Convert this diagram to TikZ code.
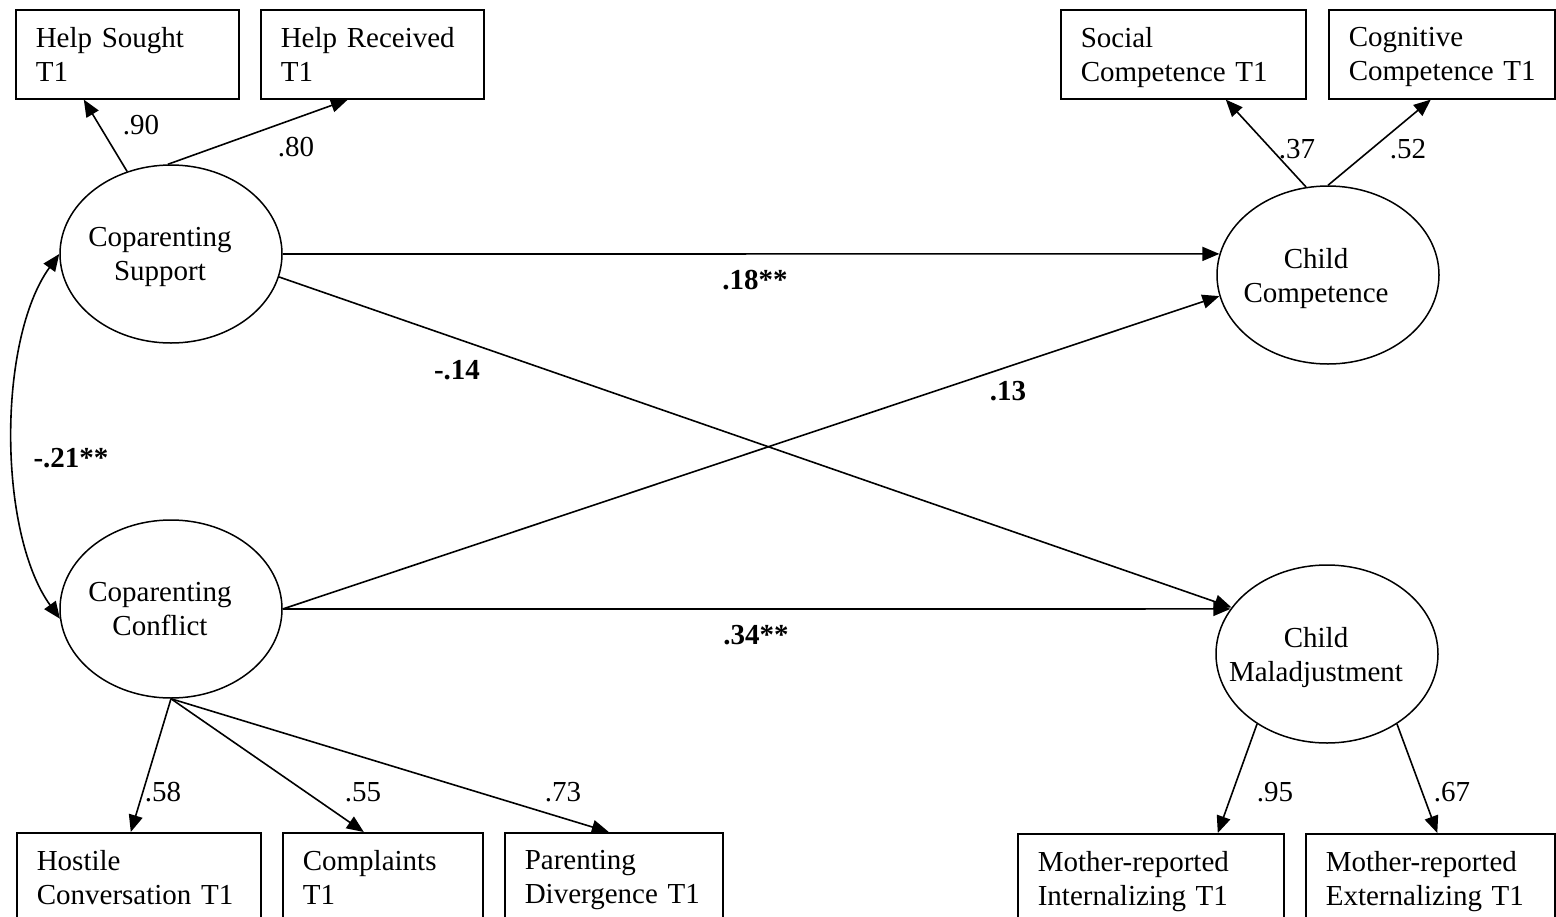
\documentclass[tikz,border=0pt]{standalone}
\usepackage{fontspec}
\setmainfont{Liberation Serif}
\usetikzlibrary{arrows.meta,shapes.geometric,calc}
\newcommand\lastln[1]{\raisebox{0pt}[\height][0pt]{#1}}
\begin{document}
\begin{tikzpicture}[x=1pt,y=-1pt,
  every node/.style={font=\fontsize{29}{34}\selectfont},
  box/.style={draw, rectangle, line width=1.6pt, anchor=north west, align=left,
    inner xsep=20pt, inner ysep=0pt, minimum height=89pt},
  lat/.style={draw, ellipse, line width=1.5pt, minimum width=222pt,
    minimum height=178pt, inner sep=0pt},
  lattext/.style={align=center, inner sep=0pt},
  arr/.style={line width=1.6pt, -{Triangle[length=17pt,width=14pt]}},
  dbl/.style={line width=1.6pt, {Triangle[length=17pt,width=14pt]}-{Triangle[length=17pt,width=14pt]}},
  coef/.style={inner sep=0pt},
  bcoef/.style={inner sep=0pt, font=\fontsize{29}{34}\selectfont\bfseries}
]
\useasboundingbox (0,0) rectangle (1556,916);
\clip (0,0) rectangle (1556,916);
\fill[white] (0,0) rectangle (1556,916);

% indicator boxes
\node[box, text width=183pt] (hs) at (15,9) {Help Sought\\\lastln{T1}};
\node[box, text width=183pt] (hr) at (260,9) {Help~Received\\\lastln{T1}};
\node[box, text width=205pt] (sc) at (1060,9) {Social\\\lastln{Competence~T1}};
\node[box, text width=186pt] (cg) at (1328,9) {Cognitive\\\lastln{Competence~T1}};
\node[box, text width=204pt] (ho) at (16,832) {Hostile\\\lastln{Conversation~T1}};
\node[box, text width=160pt] (co) at (282,832) {Complaints\\\lastln{T1}};
\node[box, text width=178pt] (pd) at (504,832) {Parenting\\\lastln{Divergence~T1}};
\node[box, text width=226pt] (mi) at (1017,833) {Mother-reported\\\lastln{Internalizing~T1}};
\node[box, text width=209pt] (me) at (1305,833) {Mother-reported\\\lastln{Externalizing~T1}};

% latent variables
\node[lat] (sup) at (171,254) {};
\node[lat] (conf) at (171,609) {};
\node[lat] (cc) at (1328,275) {};
\node[lat] (mal) at (1327,654) {};
\node[lattext] (supt) at ($(sup)+(-11,0)$) {Coparenting\\\lastln{Support}};
\node[lattext] (conft) at ($(conf)+(-11,0)$) {Coparenting\\\lastln{Conflict}};
\node[lattext] (cct) at ($(cc)+(-12,0)$) {Child\\\lastln{Competence}};
\node[lattext] (malt) at ($(mal)+(-11,0)$) {Child\\\lastln{Maladjustment}};

% measurement paths
\draw[arr] (sup.118) -- ($(hs.south)+(-43.5,0)$);
\draw[arr] (sup.92) -- ($(hr.south)+(-24.5,0)$);
\draw[arr] (cc.104) -- ($(sc.south)+(42.5,0)$);
\draw[arr] (cc.90) -- ($(cg.south)+(-11,0)$);
\draw[arr] (conf.south) -- ($(ho.north)+(-8,0)$);
\draw[arr] (conf.south) -- ($(co.north)+(-19,0)$);
\draw[arr] (conf.south) -- ($(pd.north)+(-5,0)$);
\draw[arr] (mal.225) -- ($(mi.north)+(67,0)$);
\draw[arr] (mal.-45) -- ($(me.north)+(7,0)$);

% structural paths
\draw[arr] (sup.east) -- (cc.169);
\draw[arr] (sup.-12) -- (mal.154);
\draw[arr] (conf.east) -- (cc.191);
\draw[arr] (conf.east) -- (mal.155);
\draw[dbl] (sup.west) .. controls +(-62,86) and +(-62,-86) .. (conf.185);

% coefficients
\node[coef] (l90) at (141,125) {.90};
\node[coef] (l80) at (296,147) {.80};
\node[coef] (l37) at (1297,149) {.37};
\node[coef] (l52) at (1408,149) {.52};
\node[coef] (l58) at (163,792) {.58};
\node[coef] (l55) at (363,792) {.55};
\node[coef] (l73) at (563,792) {.73};
\node[coef] (l95) at (1275,792) {.95};
\node[coef] (l67) at (1452,792) {.67};
\node[bcoef] (l18) at (755,280) {.18**};
\node[bcoef] (l14) at (457,370) {-.14};
\node[bcoef] (l13) at (1008,391) {.13};
\node[bcoef] (l34) at (756,635) {.34**};
\node[bcoef] (l21) at (71,458) {-.21**};
\end{tikzpicture}
\end{document}
